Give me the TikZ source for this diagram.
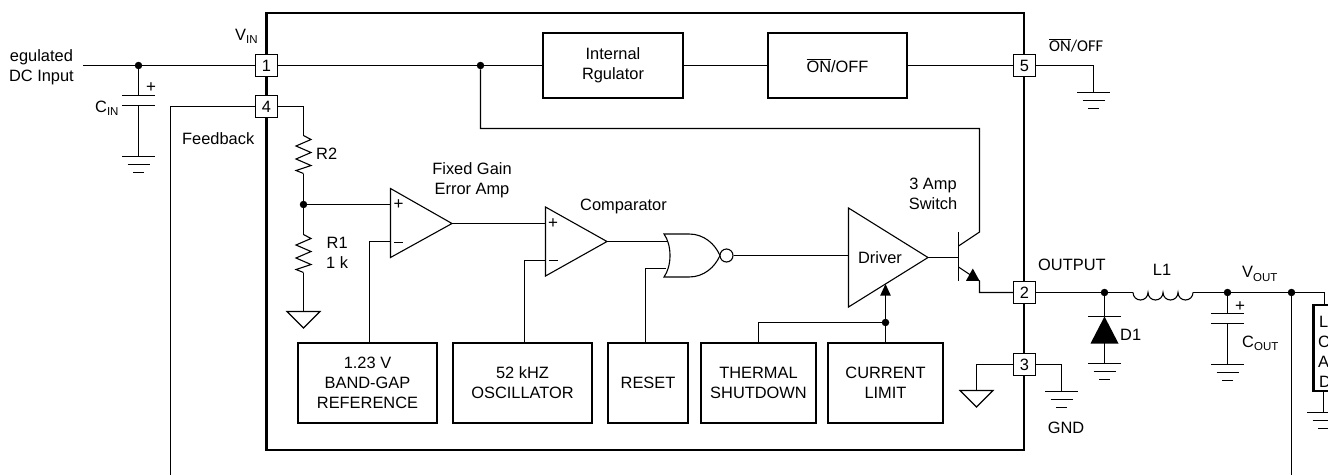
\documentclass[tikz,border=0pt]{standalone}
\usepackage{fontspec}
\setmainfont{Liberation Sans}
\newfontfamily\carlitofont{Carlito}
\newcommand{\lowsub}[1]{\raisebox{-3.2pt}{\fontsize{11.5}{12}\selectfont #1}}
\newcommand{\barON}{$\overline{\mbox{ON}}$}
\newcommand{\pinnum}[1]{\raisebox{-2.5pt}{#1}}
\newcommand{\plusm}{\fontsize{17}{17}\selectfont +}
\newcommand{\minusm}{\rule[0pt]{9pt}{1.1pt}}
\tikzset{
  wire/.style={line width=1.1pt,line join=miter},
  chip/.style={line width=2.4pt},
  bl/.style={draw,line width=2pt,fill=white,inner sep=0pt,align=center},
  pinbox/.style={draw,line width=1pt,fill=white,minimum size=22pt,inner sep=0pt,font=\fontsize{16.4}{20}\selectfont},
  dot/.style={circle,fill=black,inner sep=0pt,minimum size=7.5pt},
  lbl/.style={inner sep=0pt,align=center},
  lbll/.style={inner sep=0pt,align=left},
  pics/gnd/.style={code={
    \draw[wire] (-16.5,0) -- (16.5,0);
    \draw[wire] (-11,8) -- (11,8);
    \draw[wire] (-5.5,16) -- (5.5,16);}},
  pics/gtri/.style={code={
    \draw[wire,line join=miter] (-16.5,0) -- (16.5,0) -- (0,16.5) -- cycle;}},
  pics/zig/.style={code={
    \draw[wire] (0,0) -- (7.5,4) -- (-7.5,10.5) -- (7.5,17) -- (-7.5,23.5) -- (7.5,30) -- (-7.5,35) -- (0,38);}},
}
\begin{document}
\begin{tikzpicture}[x=1pt,y=-1pt,font=\fontsize{16.4}{20}\selectfont]
\useasboundingbox (0,0) rectangle (1328,475);
\clip (0,0) rectangle (1328,475);
% chip outline
\draw[chip] (266.5,13) rectangle (1024,450);
% pins
\node[pinbox] (p1) at (266.5,65.5) {\pinnum{1}};
\node[pinbox] (p4) at (266.5,106.5) {\pinnum{4}};
\node[pinbox] (p5) at (1024.5,65.5) {\pinnum{5}};
\node[pinbox] (p2) at (1024.5,292.5) {\pinnum{2}};
\node[pinbox] (p3) at (1024.5,364.5) {\pinnum{3}};
% blocks
\node[bl,minimum width=140pt,minimum height=65pt] (reg) at (613,65.5) {Internal\\Rgulator};
\node[bl,minimum width=139pt,minimum height=65pt] (onoff) at (837.5,65.5) {\barON/OFF};
\node[bl,minimum width=139pt,minimum height=80pt] (ref) at (367.5,383) {1.23 V\\BAND-GAP\\REFERENCE};
\node[bl,minimum width=139pt,minimum height=80pt] (osc) at (522.5,383) {52 kHZ\\OSCILLATOR};
\node[bl,minimum width=80pt,minimum height=80pt] (rst) at (648,383) {RESET};
\node[bl,minimum width=115pt,minimum height=80pt] (thm) at (758.5,383) {THERMAL\\SHUTDOWN};
\node[bl,minimum width=115pt,minimum height=80pt] (cur) at (885.5,383) {CURRENT\\LIMIT};
\node[draw,line width=2.4pt,fill=white,minimum width=40pt,minimum height=85.5pt,inner sep=0pt] (load) at (1333.5,348) {};
% junctions
\node[dot] (jin) at (138.5,65.5) {};
\node[dot] (jsw) at (480.5,65.5) {};
\node[dot] (jfb) at (303.5,204.5) {};
\node[dot] (jth) at (885.5,322.5) {};
\node[dot] (jd) at (1104.5,292.5) {};
\node[dot] (jc) at (1227.5,292.5) {};
\node[dot] (jv) at (1291.5,292.5) {};
% input and CIN
\coordinate (inl) at (83,65.5);
\coordinate (cinT) at (138.5,95.5);
\coordinate (cinB) at (138.5,105.5);
\coordinate (cinG) at (138.5,156.5);
\draw[wire] (inl) -- (jin) -- (p1) -- (jsw) -- (reg);
\draw[wire] (reg) -- (onoff);
\draw[wire] (onoff) -- (p5);
\draw[wire] (jin) -- (cinT);
\draw[wire] (cinB) -- (cinG);
\draw[wire] (122,95.5) -- (155,95.5);
\draw[wire] (122,105.5) -- (155,105.5);
\pic at (cinG) {gnd};
% feedback
\coordinate (fbb) at (170.5,475);
\draw[wire] (p4) -| (fbb);
% divider
\coordinate (r2t) at (303.5,135.5);
\coordinate (r2b) at (303.5,173.5);
\coordinate (r1t) at (303.5,234.5);
\coordinate (r1b) at (303.5,272.5);
\coordinate (gfb) at (303.5,311.5);
\draw[wire] (p4) -| (r2t);
\pic at (r2t) {zig};
\draw[wire] (r2b) -- (jfb) -- (r1t);
\pic at (r1t) {zig};
\draw[wire] (r1b) -- (gfb);
\pic at (gfb) {gtri};
% error amp
\coordinate (eaT) at (390.5,188.5);
\coordinate (eaB) at (390.5,257.5);
\coordinate (eaO) at (452,223.5);
\coordinate (eaP) at (390.5,204.5);
\coordinate (eaM) at (390.5,241.5);
\draw[wire] (eaT) -- (eaB) -- (eaO) -- cycle;
\node[lbl] at (398.5,204.5) {\plusm};
\node[lbl] at (398.5,242.5) {\minusm};
\draw[wire] (jfb) -- (eaP);
\draw[wire] (eaM) -| (ref.north -| 369.5,0);
% comparator
\coordinate (cpT) at (545.5,207);
\coordinate (cpB) at (545.5,276);
\coordinate (cpO) at (607,241.5);
\coordinate (cpP) at (545.5,223.5);
\coordinate (cpM) at (545.5,260.5);
\draw[wire] (cpT) -- (cpB) -- (cpO) -- cycle;
\node[lbl] at (553,224) {\plusm};
\node[lbl] at (553,260.5) {\minusm};
\draw[wire] (eaO) -- (cpP);
\draw[wire] (cpM) -| (osc.north -| 524.5,0);
% NOR
\coordinate (nA) at (664,234);
\coordinate (nB) at (664,277);
\coordinate (nI1) at (667,241.5);
\coordinate (nI2) at (666,268.5);
\coordinate (nO) at (720,255.5);
\draw[wire] (nA) .. controls (672,245) and (672,266) .. (nB)
  -- (689,277) .. controls (704,277) and (715,267) .. (nO)
  .. controls (715,244) and (704,234) .. (689,234) -- cycle;
\node[circle,draw,line width=1.1pt,fill=white,minimum size=13pt,inner sep=0pt] (bub) at (726.5,255.5) {};
\draw[wire] (cpO) -- (nI1);
\draw[wire] (nI2) -| (rst.north -| 645.5,0);
% driver
\coordinate (drT) at (848.5,208);
\coordinate (drB) at (848.5,307);
\coordinate (drO) at (928,257.5);
\coordinate (drI) at (848.5,255.5);
\coordinate (drA) at (885.5,284);
\draw[wire] (drT) -- (drB) -- (drO) -- cycle;
\node[lbl] (drv) at (880,257.5) {Driver};
\draw[wire] (bub) -- (drI);
\draw[wire] (cur) -- (jth);
\draw[wire] (jth) -- (885.5,295);
\fill (drA) -- (890.8,295.5) -- (880.2,295.5) -- cycle;
\draw[wire] (jth) -| (thm.north -| 758.5,0);
% transistor
\coordinate (qBt) at (958.5,232);
\coordinate (qBb) at (958.5,281);
\coordinate (qB) at (958.5,257.5);
\coordinate (qCi) at (958.5,246);
\coordinate (qC) at (979.5,232);
\coordinate (qCu) at (979.5,128.5);
\coordinate (qCl) at (480.5,128.5);
\coordinate (qEi) at (958.5,267);
\coordinate (qE) at (979.5,281);
\coordinate (qEd) at (979.5,292.5);
\draw[wire] (qBt) -- (qBb);
\draw[wire] (drO) -- (qB);
\draw[wire] (qCi) -- (qC) -- (qCu) -- (qCl) -- (jsw);
\draw[wire] (qEi) -- (qE) -- (qEd) -- (p2);
\fill (979.5,280.8) -- (966,280.8) -- (972.8,268.5) -- cycle;
% pin 5
\coordinate (g5) at (1093.5,92.5);
\draw[wire] (p5) -| (g5);
\pic at (g5) {gnd};
% pin 3
\coordinate (g3a) at (976.5,390.5);
\coordinate (g3b) at (1061.5,391.5);
\draw[wire] (p3) -| (g3a);
\pic at (g3a) {gtri};
\draw[wire] (p3) -| (g3b);
\pic at (g3b) {gnd};
% output
\coordinate (diT) at (1104.5,316.5);
\coordinate (diB) at (1104.5,343);
\coordinate (gd) at (1104.5,363.5);
\coordinate (lA) at (1133,292.5);
\coordinate (lB) at (1193,292.5);
\coordinate (coT) at (1227.5,313.5);
\coordinate (coB) at (1227.5,323.5);
\coordinate (gc) at (1227.5,364.5);
\coordinate (vfb) at (1291.5,475);
\coordinate (lo) at (1324.5,292.5);
\coordinate (gl) at (1323.5,412.5);
\draw[wire] (p2) -- (jd) -- (lA);
\draw[wire] (jd) -- (diT);
\draw[wire] (1088,316.5) -- (1121,316.5);
\fill (diT) -- (1118.5,343.5) -- (1090.5,343.5) -- cycle;
\draw[wire] (diB) -- (gd);
\pic at (gd) {gnd};
\draw[wire] (lA) arc[start angle=180,end angle=0,x radius=7.5,y radius=7.5]
  arc[start angle=180,end angle=0,x radius=7.5,y radius=7.5]
  arc[start angle=180,end angle=0,x radius=7.5,y radius=7.5]
  arc[start angle=180,end angle=0,x radius=7.5,y radius=7.5];
\draw[wire] (lB) -- (jc) -- (jv) -- (lo) -- (load.north -| lo);
\draw[wire] (jc) -- (coT);
\draw[wire] (1211,313.5) -- (1244,313.5);
\draw[wire] (1211,323.5) -- (1244,323.5);
\draw[wire] (coB) -- (gc);
\pic at (gc) {gnd};
\draw[wire] (jv) -- (vfb);
\draw[wire] (load.south -| gl) -- (gl);
\pic at (gl) {gnd};
% labels
\node[lbl,anchor=east] at (74,67) {egulated\\DC Input};
\node[lbl,anchor=west] at (235,36) {V\lowsub{IN}};
\node[lbl,anchor=west] at (95,108) {C\lowsub{IN}};
\node[lbl] at (151,87.5) {\plusm};
\node[lbl,anchor=west] at (182,139) {Feedback};
\node[lbl,anchor=west] at (316,154) {R2};
\node[lbl,anchor=west] at (326,253) {R1\\1 k};
\node[lbl] at (472,180) {Fixed Gain\\Error Amp};
\node[lbl,anchor=west] at (580,206) {Comparator};
\node[lbl] at (933,193.5) {3 Amp\\Switch};
\node[lbl,anchor=west] at (1049,45) {\carlitofont\fontsize{16.5}{18}\selectfont\barON/OFF};
\node[lbl,anchor=west] at (1038,265) {OUTPUT};
\node[lbl] at (1162,270) {L1};
\node[lbl,anchor=west] at (1242,274) {V\lowsub{OUT}};
\node[lbl,anchor=west] at (1120,335) {D1};
\node[lbl] at (1240,307) {\plusm};
\node[lbl,anchor=west] at (1242,343) {C\lowsub{OUT}};
\node[lbl] at (1066,428) {GND};
\node[lbll,anchor=base west] at (1319,327) {L};
\node[lbll,anchor=base west] at (1318,347) {C};
\node[lbll,anchor=base west] at (1318,367) {A};
\node[lbll,anchor=base west] at (1319,387) {D};
\end{tikzpicture}
\end{document}
